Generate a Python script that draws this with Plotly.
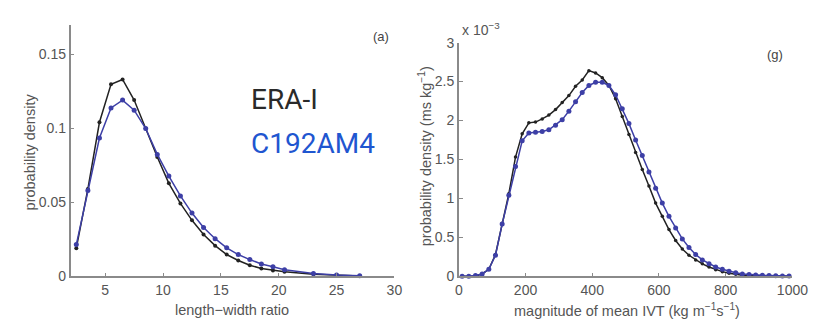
import plotly.graph_objects as go

# ---------------- data: panel (a) ----------------
lw_x = [2.5, 3.5, 4.5, 5.5, 6.5, 7.5, 8.5, 9.5, 10.5, 11.5, 12.5, 13.5, 14.5,
        15.5, 16.5, 17.5, 18.5, 19.5, 20.5, 23, 25, 27]
lw_era = [0.019, 0.059, 0.104, 0.1297, 0.1329, 0.119, 0.0998, 0.0806, 0.0628,
          0.0492, 0.0378, 0.0282, 0.0207, 0.0147, 0.0107, 0.0075, 0.0053, 0.004,
          0.003, 0.0013, 0.0006, 0.0002]
lw_c192 = [0.0214, 0.058, 0.0934, 0.1137, 0.119, 0.1122, 0.0998, 0.0823, 0.0677,
           0.0543, 0.0427, 0.0329, 0.0254, 0.0192, 0.0147, 0.0113, 0.0083, 0.0064,
           0.0045, 0.0019, 0.0008, 0.0003]

# ---------------- data: panel (g) (values in 1e-3) ----------------
ivt_x = [10, 30, 50, 70, 90, 110, 130, 150, 170, 190, 210, 230, 250, 270, 290,
         310, 330, 350, 370, 390, 410, 430, 450, 470, 490, 510, 530, 550, 570,
         590, 610, 630, 650, 670, 690, 710, 730, 750, 770, 790, 810, 830, 850,
         870, 890, 910, 930, 950, 970, 990]
ivt_era = [0, 0, 0.005, 0.03, 0.09, 0.28, 0.68, 1.06, 1.53, 1.83, 1.97, 1.98,
           2.02, 2.07, 2.14, 2.23, 2.32, 2.44, 2.52, 2.64, 2.61, 2.55, 2.45, 2.28,
           2.05, 1.82, 1.59, 1.37, 1.16, 0.94, 0.77, 0.60, 0.46, 0.35, 0.27, 0.21,
           0.16, 0.12, 0.085, 0.06, 0.04, 0.025, 0.015, 0.01, 0.007, 0.005, 0.003,
           0.002, 0.001, 0.001]
ivt_c192 = [0, 0, 0.01, 0.03, 0.09, 0.27, 0.67, 1.04, 1.41, 1.74, 1.84, 1.85,
            1.86, 1.88, 1.94, 2.01, 2.12, 2.24, 2.36, 2.45, 2.49, 2.49, 2.45, 2.33,
            2.15, 1.96, 1.75, 1.55, 1.34, 1.13, 0.94, 0.77, 0.62, 0.48, 0.37, 0.28,
            0.21, 0.16, 0.12, 0.09, 0.065, 0.045, 0.03, 0.022, 0.016, 0.012, 0.009,
            0.007, 0.005, 0.004]

left_xticks = [5, 10, 15, 20, 25, 30]
left_yticks = [0, 0.05, 0.1, 0.15]
left_ytext = ["0", "0.05", "0.1", "0.15"]
right_xticks = [0, 200, 400, 600, 800, 1000]
right_yticks = [0, 0.5, 1, 1.5, 2, 2.5, 3]
right_ytext = ["0", "0.5", "1", "1.5", "2", "2.5", "3"]

BLACK = "#222222"
BLUE = "#3d3fa6"
GRAY = "#555555"
AX = "#8a8a8a"
W, H = 817, 320

fig = go.Figure()
fig.add_trace(go.Scatter(x=lw_x, y=lw_era, mode="lines+markers", xaxis="x", yaxis="y",
                         line=dict(color=BLACK, width=1.5), marker=dict(color=BLACK, size=4),
                         cliponaxis=False, showlegend=False))
fig.add_trace(go.Scatter(x=lw_x, y=lw_c192, mode="lines+markers", xaxis="x", yaxis="y",
                         line=dict(color=BLUE, width=1.5), marker=dict(color=BLUE, size=5),
                         cliponaxis=False, showlegend=False))
fig.add_trace(go.Scatter(x=ivt_x, y=ivt_era, mode="lines+markers", xaxis="x2", yaxis="y2",
                         line=dict(color=BLACK, width=1.5), marker=dict(color=BLACK, size=3.5),
                         cliponaxis=False, showlegend=False))
fig.add_trace(go.Scatter(x=ivt_x, y=ivt_c192, mode="lines+markers", xaxis="x2", yaxis="y2",
                         line=dict(color=BLUE, width=1.5), marker=dict(color=BLUE, size=5),
                         cliponaxis=False, showlegend=False))

def px_x(p):
    return p / W

def px_y(p):
    return 1 - p / H

tickfont = dict(family="Liberation Sans, Arial, sans-serif", size=14, color=GRAY)
common = dict(showgrid=False, zeroline=False, showline=True, linecolor=AX, linewidth=1.5,
              ticks="inside", ticklen=4, tickcolor=AX, tickfont=tickfont, mirror=False)

fig.update_layout(
    width=W, height=H, margin=dict(l=0, r=0, t=0, b=0),
    plot_bgcolor="white", paper_bgcolor="white",
    xaxis=dict(domain=[px_x(60), px_x(392)], range=[2, 30], tickvals=left_xticks,
               anchor="y", **common),
    yaxis=dict(domain=[px_y(274), px_y(9)], range=[0, 0.17], tickvals=left_yticks,
               ticktext=left_ytext, anchor="x", **common),
    xaxis2=dict(domain=[px_x(458), px_x(800)], range=[0, 1000], tickvals=right_xticks,
                anchor="y2", **common),
    yaxis2=dict(domain=[px_y(274), px_y(28)], range=[0, 3], tickvals=right_yticks,
                ticktext=right_ytext, anchor="x2", **common),
)

lab = dict(family="Liberation Sans, Arial, sans-serif", size=14.5, color=GRAY)
ann = [
    dict(x=px_x(226), y=px_y(309), text="length\u2212width ratio", font=lab),
    dict(x=px_x(18), y=px_y(143), text="probability density", font=lab, textangle=-90),
    dict(x=px_x(630), y=px_y(309),
         text="magnitude of mean IVT (kg m<sup>\u22121</sup>s<sup>\u22121</sup>)", font=lab),
    dict(x=px_x(423), y=px_y(148),
         text="probability density (ms kg<sup>\u22121</sup>)", font=lab, textangle=-90),
    dict(x=px_x(459), y=px_y(14), text="x 10<sup>\u22123</sup>",
         font=dict(family="Liberation Sans, Arial", size=14, color=GRAY), xanchor="left"),
    dict(x=px_x(378), y=px_y(22), text="(a)", font=dict(family="Liberation Sans, Arial", size=13, color="#444")),
    dict(x=px_x(782), y=px_y(40), text="(g)", font=dict(family="Liberation Sans, Arial", size=13, color="#444")),
    dict(x=px_x(243), y=px_y(88), text="ERA-I", xanchor="left",
         font=dict(family="Roboto, sans-serif", size=28, color="#2a2a2a")),
    dict(x=px_x(243), y=px_y(134), text="C192AM4", xanchor="left",
         font=dict(family="Roboto, sans-serif", size=28, color="#1f56d0")),
]
for a in ann:
    a.setdefault("xanchor", "center")
    a.update(xref="paper", yref="paper", showarrow=False, yanchor="middle")
    fig.add_annotation(**a)

fig.write_html("out.html", config={"displayModeBar": False})
